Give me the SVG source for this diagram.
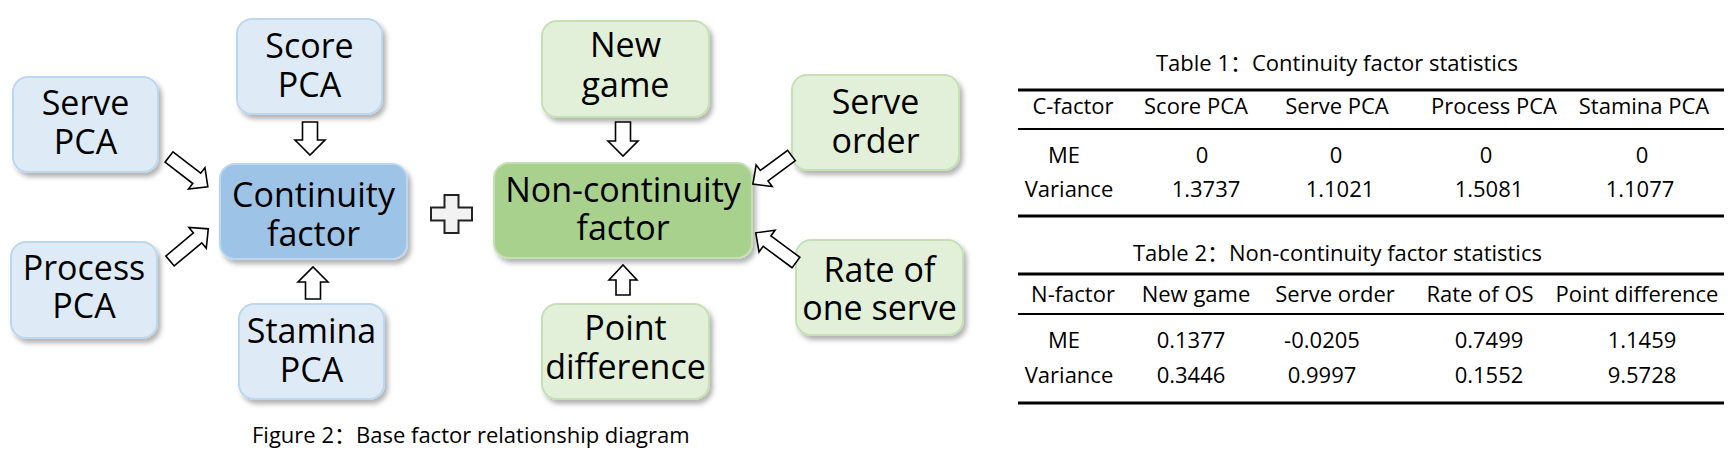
<svg xmlns="http://www.w3.org/2000/svg" width="1735" height="460" viewBox="0 0 1735 460">
<defs>
<filter id="sh" x="-20%" y="-20%" width="150%" height="150%">
<feDropShadow dx="3" dy="4" stdDeviation="2.5" flood-color="#000" flood-opacity="0.3"/>
</filter>
<style>
.t{font-family:'Open Sans','Noto Sans CJK SC',sans-serif;fill:#000}
.bx{font-size:34px;text-anchor:middle}
.lb{fill:#deebf7;stroke:#bdd7ee;stroke-width:2}
.db{fill:#9dc3e6;stroke:#bdd7ee;stroke-width:2}
.lg{fill:#e2f0d9;stroke:#c5e0b4;stroke-width:2}
.dg{fill:#a9d18e;stroke:#c5e0b4;stroke-width:2}
.ar{fill:#fff;stroke:#000;stroke-width:1.6;stroke-linejoin:miter}
.tc{font-size:22px;text-anchor:middle}
.tt{font-size:22px}
.rule{stroke:#000}
</style>
</defs>
<rect width="1735" height="460" fill="#fff"/>

<g id="score-pca"><rect class="lb" x="237" y="19" width="145" height="95" rx="15" filter="url(#sh)"/><text class="t bx"><tspan x="309.5" y="58">Score</tspan><tspan x="309.5" y="97">PCA</tspan></text></g>
<g id="serve-pca"><rect class="lb" x="13" y="77" width="145" height="95" rx="15" filter="url(#sh)"/><text class="t bx"><tspan x="85.5" y="115">Serve</tspan><tspan x="85.5" y="154">PCA</tspan></text></g>
<g id="continuity-factor"><rect class="db" x="220" y="164" width="187" height="95" rx="15" filter="url(#sh)"/><text class="t bx"><tspan x="313.5" y="207">Continuity</tspan><tspan x="313.5" y="246">factor</tspan></text></g>
<g id="process-pca"><rect class="lb" x="11" y="242" width="146" height="96" rx="15" filter="url(#sh)"/><text class="t bx"><tspan x="84" y="280">Process</tspan><tspan x="84" y="318">PCA</tspan></text></g>
<g id="stamina-pca"><rect class="lb" x="239" y="304" width="145" height="95" rx="15" filter="url(#sh)"/><text class="t bx"><tspan x="311.5" y="343">Stamina</tspan><tspan x="311.5" y="382">PCA</tspan></text></g>

<g id="new-game"><rect class="lg" x="542" y="21" width="167" height="96" rx="15" filter="url(#sh)"/><text class="t bx"><tspan x="625.5" y="57">New</tspan><tspan x="625.5" y="97">game</tspan></text></g>
<g id="non-continuity-factor"><rect class="dg" x="494" y="163" width="258" height="95" rx="15" filter="url(#sh)"/><text class="t bx"><tspan x="623" y="202">Non-continuity</tspan><tspan x="623" y="240">factor</tspan></text></g>
<g id="serve-order"><rect class="lg" x="792" y="75" width="167" height="95" rx="15" filter="url(#sh)"/><text class="t bx"><tspan x="875.5" y="114">Serve</tspan><tspan x="875.5" y="153">order</tspan></text></g>
<g id="rate-of-one-serve"><rect class="lg" x="796" y="240" width="167" height="95" rx="15" filter="url(#sh)"/><text class="t bx"><tspan x="879.5" y="282">Rate of</tspan><tspan x="879.5" y="320">one serve</tspan></text></g>
<g id="point-difference"><rect class="lg" x="542" y="304" width="167" height="95" rx="15" filter="url(#sh)"/><text class="t bx"><tspan x="625.5" y="340">Point</tspan><tspan x="625.5" y="379">difference</tspan></text></g>

<g id="plus"><polygon points="444.5,195 458.5,195 458.5,207.5 472,207.5 472,220.5 458.5,220.5 458.5,233 444.5,233 444.5,220.5 431,220.5 431,207.5 444.5,207.5" fill="#f2f2f2" stroke="#222" stroke-width="2"/></g>

<g id="connectors">
<polygon class="ar" transform="translate(310,122) rotate(90)" points="0,-7.5 18,-7.5 18,-15 33,0 18,15 18,7.5 0,7.5"/>
<polygon class="ar" transform="translate(313,299) rotate(-90)" points="0,-7.5 17,-7.5 17,-15 32,0 17,15 17,7.5 0,7.5"/>
<polygon class="ar" transform="translate(169,157) rotate(37.6)" points="0,-6.5 35,-6.5 35,-13.5 49,0 35,13.5 35,6.5 0,6.5"/>
<polygon class="ar" transform="translate(170,261) rotate(-40)" points="0,-6.5 36,-6.5 36,-13.5 50,0 36,13.5 36,6.5 0,6.5"/>
<polygon class="ar" transform="translate(623,122) rotate(90)" points="0,-7.5 19,-7.5 19,-15 34,0 19,15 19,7.5 0,7.5"/>
<polygon class="ar" transform="translate(623,295) rotate(-90)" points="0,-7 15,-7 15,-14 30,0 15,14 15,7 0,7"/>
<polygon class="ar" transform="translate(791.5,155.5) rotate(143.5)" points="0,-6.5 34,-6.5 34,-13.5 48,0 34,13.5 34,6.5 0,6.5"/>
<polygon class="ar" transform="translate(796,262.5) rotate(216.4)" points="0,-6.5 36,-6.5 36,-13.5 50,0 36,13.5 36,6.5 0,6.5"/>
</g>

<text class="t" x="252" y="443" font-size="22">Figure 2：Base factor relationship diagram</text>

<g id="table1">
<text class="t tt" x="1156" y="71">Table 1：Continuity factor statistics</text>
<line class="rule" x1="1018" y1="90" x2="1724" y2="90" stroke-width="3"/>
<line class="rule" x1="1018" y1="129" x2="1724" y2="129" stroke-width="2"/>
<line class="rule" x1="1018" y1="216" x2="1724" y2="216" stroke-width="3"/>
<text class="t tc" x="1073" y="114">C-factor</text>
<text class="t tc" x="1196" y="114">Score PCA</text>
<text class="t tc" x="1337" y="114">Serve PCA</text>
<text class="t tc" x="1494" y="114">Process PCA</text>
<text class="t tc" x="1644" y="114">Stamina PCA</text>
<text class="t tc" x="1064" y="163">ME</text>
<text class="t tc" x="1202" y="163">0</text>
<text class="t tc" x="1336" y="163">0</text>
<text class="t tc" x="1486" y="163">0</text>
<text class="t tc" x="1642" y="163">0</text>
<text class="t tc" x="1069" y="197">Variance</text>
<text class="t tc" x="1206" y="197">1.3737</text>
<text class="t tc" x="1340" y="197">1.1021</text>
<text class="t tc" x="1489" y="197">1.5081</text>
<text class="t tc" x="1640" y="197">1.1077</text>
</g>

<g id="table2">
<text class="t tt" x="1133" y="261">Table 2：Non-continuity factor statistics</text>
<line class="rule" x1="1018" y1="274" x2="1724" y2="274" stroke-width="3"/>
<line class="rule" x1="1018" y1="314" x2="1724" y2="314" stroke-width="2"/>
<line class="rule" x1="1018" y1="403" x2="1724" y2="403" stroke-width="3"/>
<text class="t tc" x="1073" y="302">N-factor</text>
<text class="t tc" x="1196" y="302">New game</text>
<text class="t tc" x="1335" y="302">Serve order</text>
<text class="t tc" x="1480" y="302">Rate of OS</text>
<text class="t tc" x="1637" y="302">Point difference</text>
<text class="t tc" x="1064" y="348">ME</text>
<text class="t tc" x="1191" y="348">0.1377</text>
<text class="t tc" x="1322" y="348">-0.0205</text>
<text class="t tc" x="1489" y="348">0.7499</text>
<text class="t tc" x="1642" y="348">1.1459</text>
<text class="t tc" x="1069" y="383">Variance</text>
<text class="t tc" x="1191" y="383">0.3446</text>
<text class="t tc" x="1322" y="383">0.9997</text>
<text class="t tc" x="1489" y="383">0.1552</text>
<text class="t tc" x="1642" y="383">9.5728</text>
</g>
</svg>
